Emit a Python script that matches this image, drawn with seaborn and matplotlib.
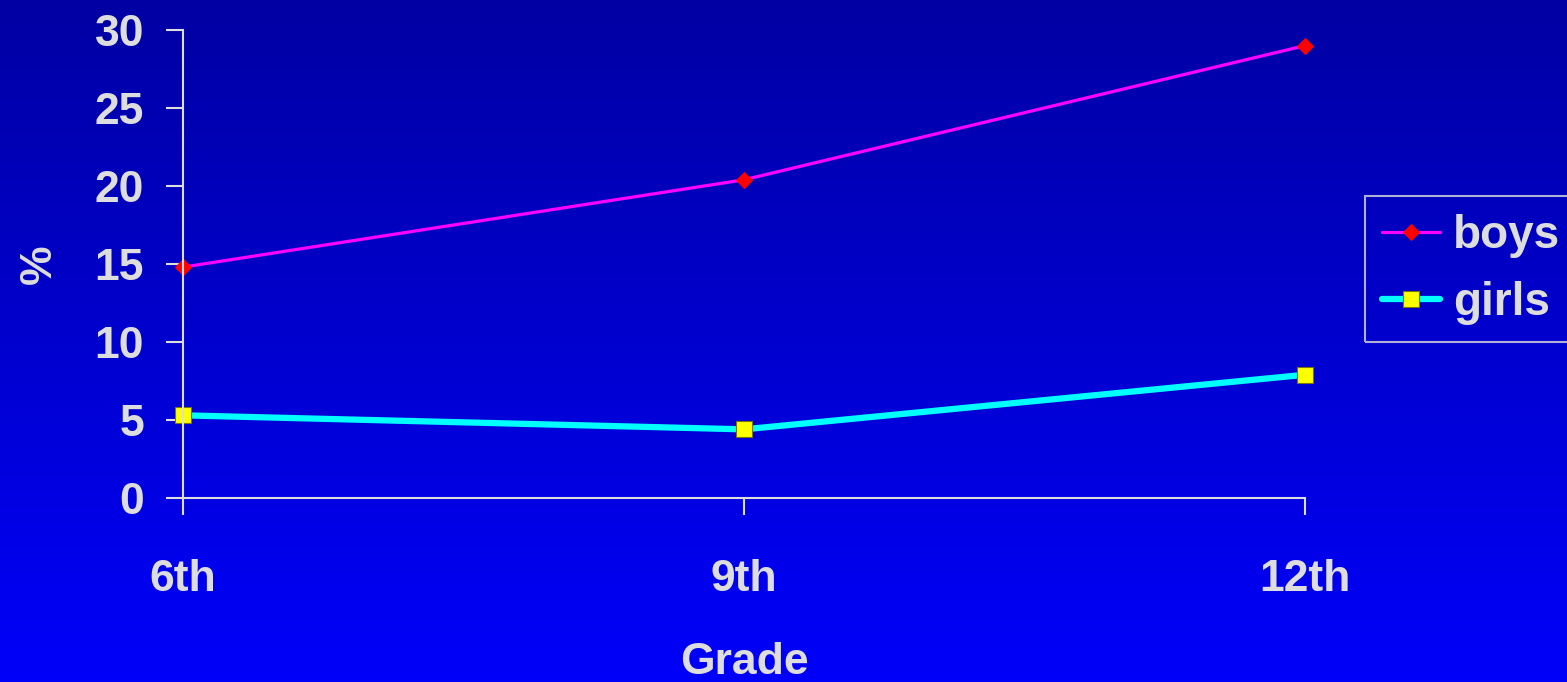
import numpy as np
import pandas as pd
import seaborn as sns
import matplotlib.pyplot as plt

grades = ['6th', '9th', '12th']
boys = [14.8, 20.4, 29.0]
girls = [5.3, 4.4, 7.9]

txt = '#dddddd'

sns.set_style('white')
plt.rcParams['font.family'] = ['Liberation Sans', 'DejaVu Sans']
plt.rcParams['font.weight'] = 'bold'

fig = plt.figure(figsize=(15.67, 6.82), dpi=100)

# background gradient, dark blue on top to bright blue at the bottom
bg = fig.add_axes([0, 0, 1, 1], zorder=-10)
grad = np.linspace(0, 1, 256)
cols = np.zeros((256, 1, 3))
cols[:, 0, 2] = 0.64 + 0.34 * grad
bg.imshow(cols, aspect='auto', extent=[0, 1, 0, 1])
bg.axis('off')

ax = fig.add_axes([0.1168, 0.2698, 0.716, 0.6862])
ax.patch.set_alpha(0)

df_b = pd.DataFrame({'grade': grades, 'pct': boys})
df_g = pd.DataFrame({'grade': grades, 'pct': girls})

sns.lineplot(data=df_b, x='grade', y='pct', ax=ax, color='#ff00ff', linewidth=2.3,
             marker='D', markersize=8, markerfacecolor='red', markeredgecolor='red',
             label='boys', clip_on=False)
sns.lineplot(data=df_g, x='grade', y='pct', ax=ax, color='#00ffff', linewidth=4.5,
             marker='s', markersize=11, markerfacecolor='yellow', markeredgecolor='#777700',
             markeredgewidth=0.8, label='girls', clip_on=False)

ax.set_xlim(0, 2)
ax.set_ylim(0, 30)
ax.set_yticks(range(0, 31, 5))
ax.set_xticks(range(3))
ax.set_xticklabels(grades)

for s in ['top', 'right']:
    ax.spines[s].set_visible(False)
for s in ['left', 'bottom']:
    ax.spines[s].set_color(txt)
    ax.spines[s].set_linewidth(1.5)

ax.tick_params(axis='both', colors=txt, labelsize=32, length=12, width=1.5,
               direction='out', bottom=True, left=True)
ax.tick_params(axis='y', pad=16)
ax.tick_params(axis='x', pad=32)
for lab in ax.get_xticklabels() + ax.get_yticklabels():
    lab.set_fontweight('bold')

ax.set_xlabel('Grade', fontsize=32, color=txt, fontweight='bold', labelpad=30)
ax.set_ylabel('%', fontsize=32, color=txt, fontweight='bold', labelpad=25)

ax.get_legend().remove()
leg = fig.legend(loc='upper left', bbox_to_anchor=(0.871, 0.712), borderaxespad=0,
                 frameon=True, fancybox=False, handlelength=1.25, handletextpad=0.3,
                 borderpad=0.38, labelspacing=0.5, prop={'weight': 'bold', 'size': 33})
leg.get_frame().set_facecolor('none')
leg.get_frame().set_edgecolor(txt)
leg.get_frame().set_linewidth(1.5)
for t in leg.get_texts():
    t.set_color(txt)

fig.savefig('out.png', dpi=100)
